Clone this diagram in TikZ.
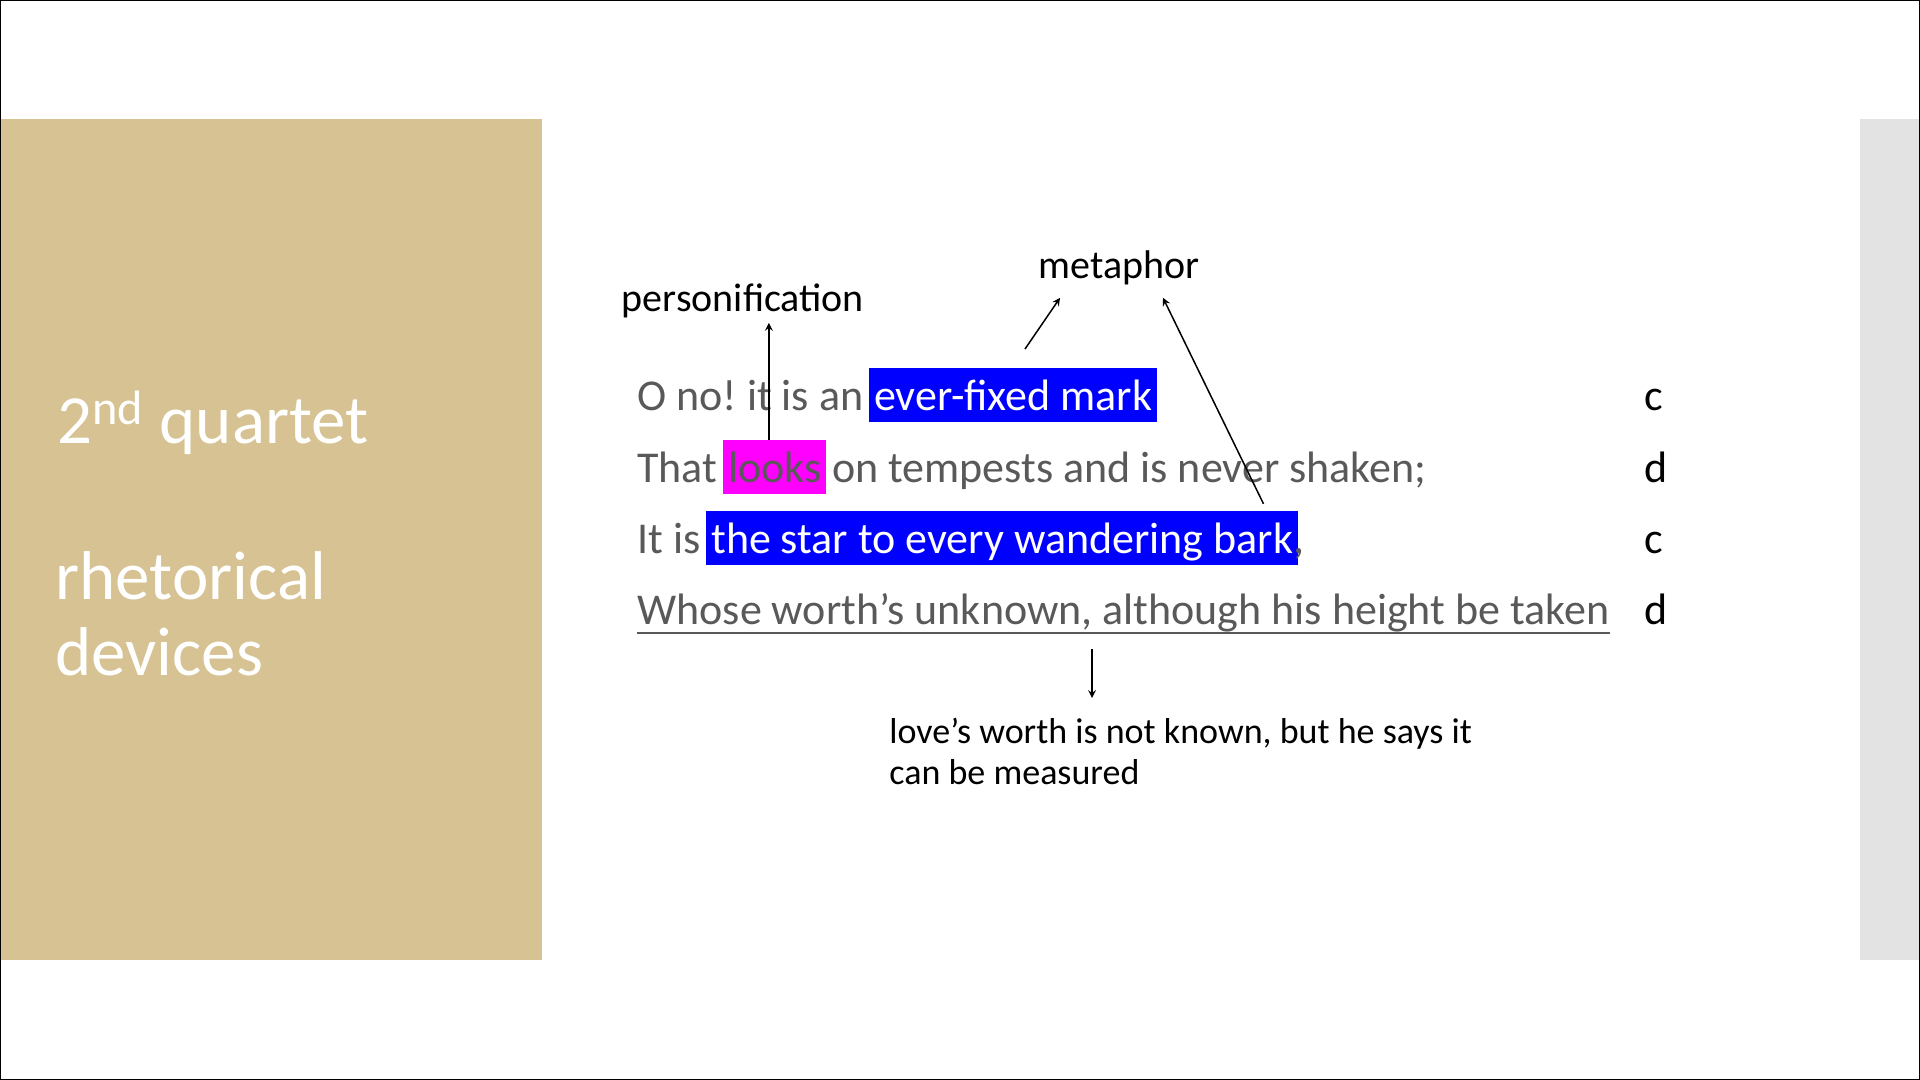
\documentclass[tikz,border=0pt]{standalone}
\usepackage{fontspec}
\setmainfont{Carlito}
\usetikzlibrary{positioning}
\frenchspacing

\definecolor{tan}{RGB}{214,194,146}
\definecolor{textgray}{RGB}{89,89,89}
\definecolor{stripgray}{RGB}{227,227,227}
\definecolor{hlblue}{RGB}{0,0,255}
\definecolor{hlpink}{RGB}{255,0,255}

\begin{document}
\begin{tikzpicture}[>=stealth, x=0.5pt, y=-0.5pt,
    verse/.style={anchor=base west, inner sep=0pt, text=textgray, font=\fontsize{22}{26}\selectfont},
    hilite/.style={verse, inner xsep=2.5pt, inner ysep=0pt, text height=20.9pt, text depth=5.9pt},
    rhyme/.style={anchor=base west, inner sep=0pt, font=\fontsize{22}{26}\selectfont},
    device/.style={anchor=base, inner sep=2pt, font=\fontsize{20}{24}\selectfont},
    notetext/.style={anchor=north west, inner xsep=0pt, inner ysep=10pt, align=left, font=\fontsize{18}{20.5}\selectfont},
    title/.style={anchor=base west, inner sep=0pt, text=white, font=\fontsize{34.5}{40}\selectfont},
    arr/.style={->, line width=0.75pt}]

            \useasboundingbox (0,0) rectangle (1920,1080);

            % Draw the side panels
            \fill[tan] (0,119) rectangle (542,960);
            \fill[stripgray] (1860,119) rectangle (1920,960);

            % Draw the title
            \node[title] (t1) at (57,443) {2\textsuperscript{nd} quartet};
            \node[title] (t2) at (55,599) {rhetorical};
            \node[title] (t3) at (55,675) {devices};

            % Draw the four lines of the quartet
            \node[verse] (l1a) at (637,410) {O no! it is an};
            \node[hilite, fill=hlblue, text=white, right=2.5pt of l1a.base east, anchor=base west] (l1b) {ever-fixed mark};

            \node[verse] (l2a) at (637,482) {That};
            \node[hilite, fill=hlpink, right=2.5pt of l2a.base east, anchor=base west] (l2b) {looks};
            \node[verse, right=2.5pt of l2b.base east, anchor=base west] (l2c) {on tempests and is never shaken;};

            \node[verse] (l3a) at (637,553) {It is};
            \node[hilite, fill=hlblue, text=white, right=2.5pt of l3a.base east, anchor=base west] (l3b) {the star to every wandering bark};
            \node[verse, right=-2.5pt of l3b.base east, anchor=base west] (l3c) {,};

            \node[verse] (l4) at (637,624) {Whose worth’s unknown, although his height be taken};
            \draw[textgray, line width=1pt] ([yshift=-4.5pt]l4.base west) -- ([yshift=-4.5pt]l4.base east);

            % Draw the rhyme scheme
            \node[rhyme] (r1) at (1644,410) {c};
            \node[rhyme] (r2) at (1644,482) {d};
            \node[rhyme] (r3) at (1644,553) {c};
            \node[rhyme] (r4) at (1644,624) {d};

            % Draw the device labels
            \node[device] (pers) at (743,312) {personification};
            \node[device] (meta) at (1119,279) {metaphor};

            % Draw the note
            \node[notetext] (note) at (889,698) {love’s worth is not known, but he says it\\can be measured};

            % Arrows to the labels
            \coordinate (m1) at (1025,349);
            \coordinate (w4) at (1092,649);
            \draw[arr] ([xshift=-3pt]l2b.north) -- ([xshift=-3pt]l2b.north |- pers.south);
            \draw[arr] (m1) -- ([xshift=-29.5pt,yshift=-4pt]meta.south);
            \draw[arr] ([xshift=-17.5pt,yshift=3.5pt]l3b.north east) -- ([xshift=22pt,yshift=-4pt]meta.south);

            % Arrow down to the note
            \draw[arr] (w4) -- (w4 |- note.north);

            % Draw the frame
            \draw[line width=1pt] (0,0) rectangle (1920,1080);

        \end{tikzpicture}
\end{document}
